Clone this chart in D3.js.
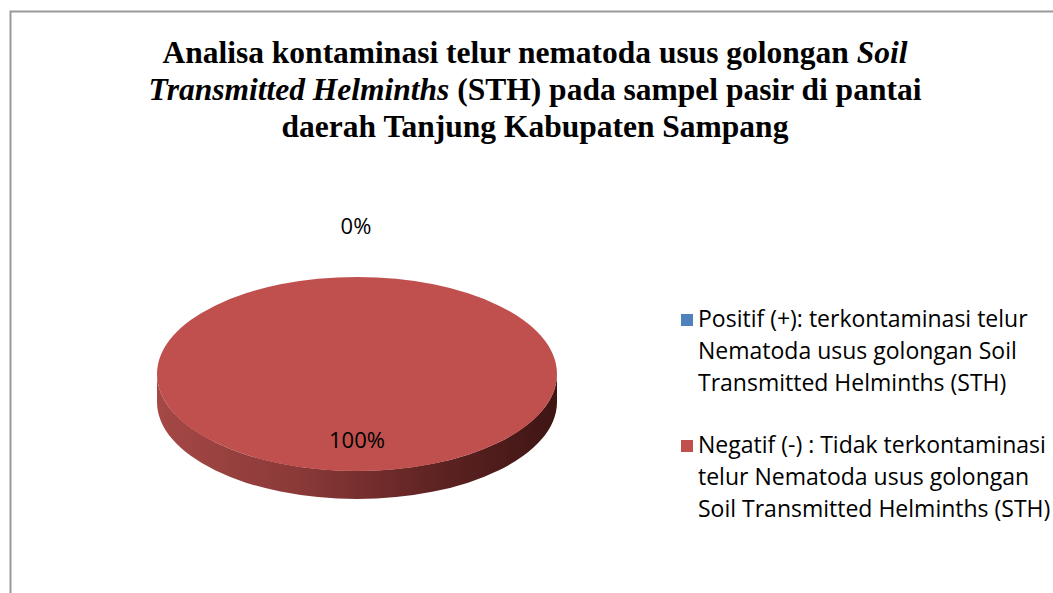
<!DOCTYPE html>
<html>
<head>
<meta charset="utf-8">
<script src="https://cdn.jsdelivr.net/npm/d3@7/dist/d3.min.js"></script>
<style>
  html, body { margin: 0; padding: 0; background: #fff; }
  svg { display: block; }
  .title { font-family: "Liberation Serif", "Times New Roman", Times, serif; font-weight: bold; }
  .lbl { font-family: "Open Sans", "Noto Sans", sans-serif; }
</style>
</head>
<body>
<script>
const categories = [
  "Positif (+): terkontaminasi telur Nematoda usus golongan Soil Transmitted Helminths (STH)",
  "Negatif (-) : Tidak terkontaminasi telur Nematoda usus golongan Soil Transmitted Helminths (STH)"
];
const values = [0, 100];
const legendLines = [
  ["Positif (+): terkontaminasi telur", "Nematoda usus golongan Soil", "Transmitted Helminths (STH)"],
  ["Negatif (-) : Tidak terkontaminasi", "telur Nematoda usus golongan", "Soil Transmitted Helminths (STH)"]
];
const colors = ["#4f81bd", "#c0504d"];

const width = 1053, height = 593;
const cx = 357, cy = 374, rx = 200, ry = 97, depth = 28;

const svg = d3.select("body").append("svg")
  .attr("width", width)
  .attr("height", height);

// chart frame (runs off the right and bottom edges)
svg.append("rect")
  .attr("x", 10.5).attr("y", 11.5)
  .attr("width", 1200).attr("height", 800)
  .attr("fill", "none")
  .attr("stroke", "#999")
  .attr("stroke-width", 2);

// title
const title = svg.append("text")
  .attr("class", "title")
  .attr("text-anchor", "middle")
  .attr("font-size", 31.5)
  .attr("fill", "#000");
const t1 = title.append("tspan").attr("x", 535).attr("y", 63);
t1.append("tspan").text("Analisa kontaminasi telur nematoda usus golongan ");
t1.append("tspan").attr("font-style", "italic").text("Soil");
const t2 = title.append("tspan").attr("x", 535).attr("y", 100);
t2.append("tspan").attr("font-style", "italic").text("Transmitted Helminths");
t2.append("tspan").text(" (STH) pada sampel pasir di pantai");
title.append("tspan").attr("x", 535).attr("y", 137).text("daerah Tanjung Kabupaten Sampang");

// pie layout, starting at 12 o'clock going clockwise
const pie = d3.pie().sort(null).value(d => d);
const arcs = pie(values);

const px = a => cx + rx * Math.sin(a);
const py = a => cy - ry * Math.cos(a);

const defs = svg.append("defs");
const sideGrad = defs.append("linearGradient")
  .attr("id", "side")
  .attr("gradientUnits", "userSpaceOnUse")
  .attr("x1", cx - rx).attr("x2", cx + rx)
  .attr("y1", 0).attr("y2", 0);
sideGrad.append("stop").attr("offset", "0%").attr("stop-color", "#a54846");
sideGrad.append("stop").attr("offset", "35%").attr("stop-color", "#8a3a38");
sideGrad.append("stop").attr("offset", "70%").attr("stop-color", "#5e2322");
sideGrad.append("stop").attr("offset", "100%").attr("stop-color", "#3e1514");

function topPath(a0, a1) {
  if (a1 - a0 >= 2 * Math.PI - 1e-6) {
    return `M${cx - rx},${cy} A${rx},${ry} 0 1 1 ${cx + rx},${cy} A${rx},${ry} 0 1 1 ${cx - rx},${cy} Z`;
  }
  const large = (a1 - a0) > Math.PI ? 1 : 0;
  return `M${cx},${cy} L${px(a0)},${py(a0)} A${rx},${ry} 0 ${large} 1 ${px(a1)},${py(a1)} Z`;
}

function sidePath(a0, a1) {
  // front half of the rim: angles between PI/2 and 3PI/2
  const s = Math.max(a0, Math.PI / 2), e = Math.min(a1, 3 * Math.PI / 2);
  if (e <= s) return null;
  const large = (e - s) > Math.PI ? 1 : 0;
  return `M${px(s)},${py(s)} A${rx},${ry} 0 ${large} 1 ${px(e)},${py(e)}` +
    ` L${px(e)},${py(e) + depth} A${rx},${ry} 0 ${large} 0 ${px(s)},${py(s) + depth} Z`;
}

const slices = svg.append("g");
arcs.forEach((d, i) => {
  if (d.endAngle - d.startAngle <= 0) return;
  const sp = sidePath(d.startAngle, d.endAngle);
  if (sp) slices.append("path").attr("d", sp).attr("fill", "url(#side)");
});
arcs.forEach((d, i) => {
  if (d.endAngle - d.startAngle <= 0) return;
  slices.append("path")
    .attr("d", topPath(d.startAngle, d.endAngle))
    .attr("fill", colors[i]);
});

// data labels
const fmt = v => d3.format(".0f")(v) + "%";
const total = d3.sum(values);
arcs.forEach((d, i) => {
  const mid = (d.startAngle + d.endAngle) / 2;
  let lx, ly;
  if (d.endAngle - d.startAngle <= 0) {
    // empty slice: label outside, above the rim
    lx = px(mid) - 1; ly = py(mid) - 51;
  } else {
    lx = cx + rx * 0.0 * Math.sin(mid);
    ly = cy - ry * 0.68 * Math.cos(mid);
  }
  svg.append("text")
    .attr("class", "lbl")
    .attr("x", lx).attr("y", ly)
    .attr("text-anchor", "middle")
    .attr("dy", "0.35em")
    .attr("font-size", 22)
    .attr("fill", "#000")
    .text(fmt(values[i] / total * 100));
});

// legend
const legend = svg.append("g");
const entryY = [327, 453];
legendLines.forEach((lines, i) => {
  legend.append("rect")
    .attr("x", 681).attr("y", entryY[i] - 13)
    .attr("width", 12).attr("height", 12)
    .attr("fill", colors[i]);
  const txt = legend.append("text")
    .attr("class", "lbl")
    .attr("font-size", 23)
    .attr("fill", "#000");
  lines.forEach((ln, j) => {
    txt.append("tspan").attr("x", 698).attr("y", entryY[i] + j * 32).text(ln);
  });
});
</script>
</body>
</html>
